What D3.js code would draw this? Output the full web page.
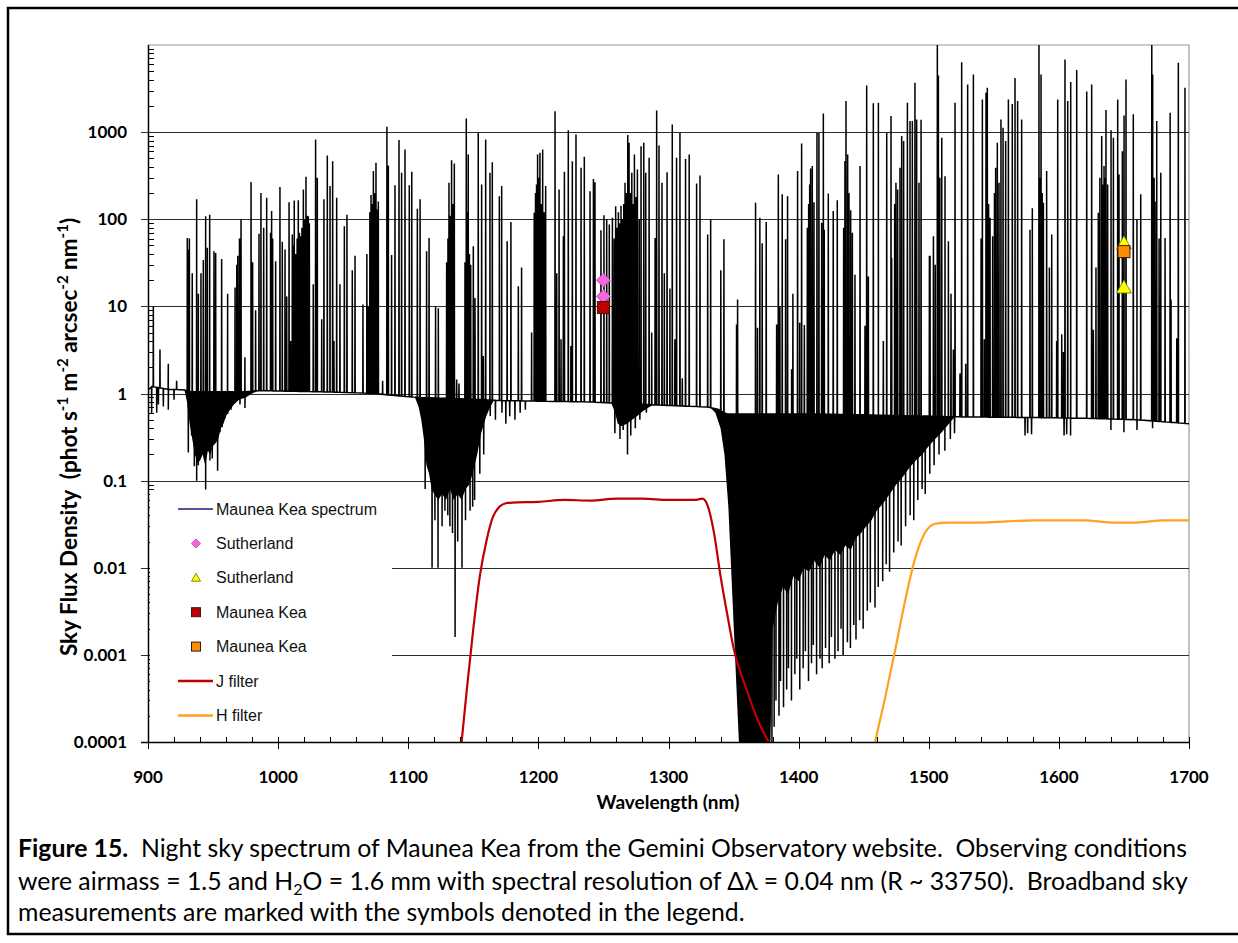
<!DOCTYPE html>
<html>
<head>
<meta charset="utf-8">
<script src="https://cdn.jsdelivr.net/npm/d3@7"></script>
<style>
  body { margin: 0; background: #fff; }
  svg { display: block; }
</style>
</head>
<body>
<svg id="chart" width="1238" height="943"></svg>
<script>
// ---------- Axis ticks ----------
const wavelengthTicks = [900, 1000, 1100, 1200, 1300, 1400, 1500, 1600, 1700];
const fluxTicks = [0.0001, 0.001, 0.01, 0.1, 1, 10, 100, 1000];
const fluxTickLabels = ["0.0001", "0.001", "0.01", "0.1", "1", "10", "100", "1000"];

// ---------- Maunea Kea sky spectrum ----------
// Continuum level [wavelength nm, flux]
const continuum = [
  [900, 1.1], [903, 1.2], [915, 1.12], [928, 1.1], [932, 1.05], [975, 1.05], [985, 1.08],
  [1040, 1.04], [1075, 1.0], [1085, 0.96], [1100, 0.92], [1110, 0.9], [1160, 0.85],
  [1170, 0.83], [1240, 0.8], [1255, 0.78], [1290, 0.74], [1330, 0.7], [1338, 0.66],
  [1345, 0.58], [1420, 0.58], [1500, 0.55], [1520, 0.54], [1580, 0.53], [1620, 0.52],
  [1660, 0.5], [1700, 0.45]
];

// OH emission lines [wavelength nm, peak flux]
const emissionLines = [
  [904.1,10],[909.2,3.2],[915.6,2.2],[922,1.4],[930.2,61],[931.2,45],[931.8,60],[934,24],[937.4,170],
  [938.7,14],[940.7,24],[942.5,34],[944.3,108],[945.6,47],[947.4,113],[950.7,43],[952,41],[956.6,35],
  [961.2,14],[966.9,16.5],[968.2,30],[969,38],[970.3,60],[971.5,100],[974.5,2.6],[979.2,267],[980.4,32],
  [982.7,9],[985.3,68],[986.8,200],[988.9,80],[991.2,176],[994.2,70],[995,124],[995.8,60],[998.1,33],
  [1001.4,234],[1003.2,55],[1005.3,45],[1006.6,13],[1008.4,157],[1009.6,4],[1010.9,67],[1011.6,50],
  [1012.4,164],[1013.5,40],[1014.6,60],[1015.5,165],[1016.4,70],[1017.3,64],[1018.3,80],[1019.4,220],
  [1020.3,100],[1021.4,307],[1022.3,110],[1023.2,108],[1024,90],[1027,18],[1028.8,824],[1030.1,300],
  [1033.5,7.1],[1035.2,170],[1037.8,540],[1039.9,240],[1041.9,464],[1042.9,4],[1045,176],[1047.5,18],
  [1050.9,83],[1052.9,113],[1057,26],[1059.1,38],[1065.2,10.5],[1068.2,40],[1069.3,10],[1070.5,120],
  [1071.4,190],[1072.3,150],[1073.2,357],[1074.2,200],[1075.2,444],[1076.1,130],[1077,160],[1080.3,1.4],
  [1083.6,1150],[1084.7,414],[1087.2,39],[1089.8,246],[1092.9,810],[1094.9,341],[1097.5,630],[1100.8,246],
  [1102.7,350],[1107,132],[1109.1,170],[1114.1,43],[1116,61],[1121,10],[1123.1,9.5],[1129.5,32],
  [1130.5,60],[1131.3,262],[1132.2,110],[1133.3,477],[1134.3,150],[1135.4,437],[1137.2,1.45],[1139,1.3],
  [1143.6,32],[1144.6,1430],[1145.3,120],[1146.1,555],[1147,40],[1148,30],[1150,49],[1151.3,12.5],
  [1153.8,980],[1156.4,250],[1157.7,2.7],[1159.5,824],[1162.8,341],[1164.6,450],[1170,184],[1171.8,240],
  [1176,56],[1178.9,93],[1184.6,17],[1187.1,28],[1194.8,5],[1196.8,119],[1197.8,200],[1198.6,250],
  [1199.4,555],[1200.3,300],[1201.2,580],[1202.2,150],[1203.3,630],[1204.4,120],[1205.6,240],[1212.8,1740],
  [1214.1,24],[1215.9,220],[1217.4,4.2],[1219.2,64],[1220,350],[1223,1050],[1225,3.5],[1226.1,464],
  [1228.9,940],[1232.8,390],[1235.3,520],[1239.7,210],[1242.3,290],[1243.5,266],[1248.1,75],[1250.4,111],
  [1252.5,100],[1254.5,87],[1256.9,104],[1258.2,60],[1259.4,141],[1260.4,80],[1261.5,120],[1262.5,90],
  [1263.5,143],[1264.6,100],[1265.6,150],[1266.6,262],[1267.6,200],[1268.7,925],[1269.7,755],[1270.8,200],
  [1271.8,341],[1272.8,150],[1273.8,555],[1275,180],[1276.1,373],[1277.5,100],[1278.9,690],[1281,755],
  [1282.5,341],[1285.1,507],[1287.1,5],[1289.7,61],[1290.9,1770],[1292.7,700],[1295,262],[1296.8,24],
  [1298.9,347],[1301.1,16],[1302.9,1220],[1304.9,4.2],[1306.2,507],[1308.8,980],[1310.6,1.5],[1313.1,490],
  [1315.9,555],[1321.6,257],[1324.2,318],[1330.1,67],[1332.4,100],[1340.2,26],[1342.6,59],[1352.3,6.2],
  [1353.1,12],[1366.9,155],[1368.4,5.7],[1370.2,104],[1372,53],[1375.1,93],[1383.1,6.2],[1384.4,326],
  [1385.6,10],[1387.4,193],[1390,59],[1391.5,184],[1394.6,1.9],[1395.6,14],[1399.2,357],[1400.8,6.5],
  [1402.3,740],[1404.4,6.1],[1406.7,80],[1407.7,150],[1408.5,250],[1409.2,382],[1410.5,408],[1411.8,157],
  [1414.1,980],[1415.6,980],[1417.7,91],[1419,1640],[1419.7,76],[1422.8,197],[1426.6,124],[1429.7,165],
  [1434.6,80],[1435.6,465],[1436.4,2270],[1437.7,555],[1438.7,200],[1440,127],[1441.3,70],[1443.3,23],
  [1447.2,408],[1451,6],[1452.3,3430],[1453.6,22],[1457.4,2150],[1461.3,2170],[1465.1,4],[1467.7,980],
  [1471,1530],[1471.5,36],[1473.8,150],[1474.8,262],[1476.1,220],[1477.9,390],[1479.2,900],[1480.7,790],
  [1483.6,2170],[1485.6,1340],[1487.4,1340],[1489.4,3690],[1490.7,1400],[1492.5,262],[1494.1,1390],
  [1500.5,38],[1501,38],[1503.6,64],[1505,30],[1506.6,12000],[1507.4,4470],[1508.5,300],[1510,860],
  [1512.5,312],[1515.1,56],[1517.1,14],[1518.9,3.2],[1520.2,2170],[1524,1.7],[1525.3,6350],[1528.4,2.2],
  [1529.9,3530],[1534.3,4580],[1540.2,60],[1541.2,2370],[1542.7,4.2],[1544,2830],[1545,3230],[1546,150],
  [1547.1,104],[1549.1,64],[1550.5,200],[1551.4,390],[1552.7,755],[1554,262],[1555.5,1400],[1557.1,1120],
  [1559.1,790],[1561.2,2370],[1564.2,2100],[1566.3,4190],[1568.3,2270],[1571.4,1400],[1577.8,76],
  [1579.6,134],[1584.7,12000],[1585.5,300],[1586.3,4580],[1587.2,200],[1588.1,155],[1590.6,357],
  [1592.7,28],[1594.5,67],[1598.3,4],[1599.1,2370],[1602.2,4.8],[1603.5,3],[1604.7,6800],[1606.8,2270],
  [1609.1,3750],[1613.7,5180],[1621.4,2930],[1625.2,3530],[1626.5,5.4],[1628.5,28],[1630.3,119],
  [1631.5,300],[1632.9,900],[1633.8,250],[1634.7,408],[1635.5,300],[1636.2,1790],[1637.5,250],
  [1640.1,1050],[1641.9,860],[1645.2,2370],[1646.2,326],[1648.8,605],[1650.1,1550],[1651.6,4030],
  [1657.2,1600],[1660,100],[1662.9,193],[1671.4,12000],[1672.1,4580],[1673.2,300],[1673.9,160],
  [1675.2,1340],[1677,60],[1678.3,341],[1681.6,61],[1685.5,1670],[1686.2,12],[1690.6,4.3],[1691.8,6240],
  [1696.9,3230]
];

// Water vapour absorption bands: lower edge of the blended absorption [wavelength nm, flux]
const bandA = [
  [928,1.1],[930,0.8],[932,0.45],[934,0.3],[936,0.2],[938,0.16],[940,0.17],[942,0.2],[944,0.15],
  [946,0.22],[948,0.2],[950,0.25],[952,0.27],[954,0.3],[956,0.4],[958,0.45],[960,0.55],[963,0.65],
  [966,0.75],[970,0.85],[975,0.9],[980,1.0],[985,1.08]
];
const bandB = [
  [1105,0.91],[1108,0.7],[1110,0.5],[1112,0.3],[1114,0.15],[1116,0.12],[1118,0.08],[1120,0.07],
  [1123,0.06],[1126,0.07],[1129,0.06],[1132,0.08],[1135,0.06],[1138,0.07],[1141,0.06],[1144,0.08],
  [1147,0.09],[1150,0.13],[1153,0.2],[1156,0.35],[1160,0.55],[1163,0.7],[1166,0.84]
];
const bandC = [
  [1256,0.78],[1259,0.6],[1261,0.45],[1264,0.42],[1268,0.45],[1272,0.5],[1276,0.55],[1280,0.62],
  [1284,0.68],[1288,0.74]
];
const bandD = [
  [1332,0.69],[1336,0.6],[1340,0.4],[1343,0.2],[1346,0.05],[1349,0.005],[1352,0.0005],[1355,0.00005],
  [1378,0.00005],[1380,0.002],[1384,0.004],[1388,0.006],[1392,0.005],[1396,0.008],[1400,0.007],
  [1404,0.01],[1408,0.009],[1412,0.012],[1416,0.01],[1420,0.014],[1424,0.012],[1428,0.016],
  [1432,0.014],[1436,0.018],[1440,0.016],[1444,0.022],[1448,0.025],[1452,0.03],[1456,0.035],
  [1460,0.045],[1465,0.055],[1470,0.07],[1475,0.09],[1480,0.11],[1485,0.14],[1490,0.17],[1495,0.2],
  [1500,0.25],[1505,0.3],[1510,0.36],[1515,0.44],[1520,0.54]
];
const absorptionBands = [bandA, bandB, bandC, bandD];

// Individual deep absorption features [wavelength nm, minimum flux]
const absorptionLines = [
  [902.8,0.58],[906.7,0.6],[908,0.75],[911.8,0.71],[915.6,0.65],[920,0.85],
  [931,0.21],[933.5,0.33],[935.6,0.146],[937.4,0.1],[938.7,0.15],[941,0.25],[944.3,0.079],[945.8,0.25],
  [947.6,0.17],[949.4,0.18],[951.5,0.27],[953.5,0.13],[955.3,0.36],[957,0.41],[959.2,0.52],[961.2,0.58],
  [963.8,0.65],[966.9,0.78],[970.7,0.75],[974.5,0.68],
  [1113,0.08],[1118.3,0.01],[1120.5,0.035],[1122.9,0.01],[1126,0.03],[1128.2,0.045],[1130.4,0.04],
  [1132,0.03],[1134,0.025],[1136,0.0016],[1138,0.02],[1141.3,0.01],[1144,0.035],[1147.5,0.045],
  [1149.5,0.05],[1151,0.06],[1155,0.12],[1158,0.2],
  [1163,0.55],[1167,0.5],[1172,0.6],[1175,0.45],[1178,0.55],[1182,0.5],[1186,0.6],[1190,0.65],
  [1258.8,0.35],[1262.7,0.3],[1265.2,0.38],[1268.5,0.2],[1271,0.33],[1274.5,0.4],[1278,0.5],[1283,0.6],
  [1379.5,0.0001],[1381.2,0.00015],[1382.6,0.0003],[1384.9,0.0002],[1386.1,0.0005],[1388.4,0.00025],
  [1390.8,0.0004],[1392.2,0.0007],[1394.5,0.0003],[1397.1,0.0006],[1398.6,0.0009],[1400.9,0.0004],
  [1403.5,0.0007],[1405.2,0.0011],[1407.6,0.0005],[1409.9,0.0008],[1411.3,0.0013],[1413.8,0.0006],
  [1416.4,0.0009],[1418.1,0.0007],[1420.7,0.0012],[1423.5,0.0008],[1425.2,0.0016],[1427.9,0.0009],
  [1430.3,0.0011],[1432.6,0.002],[1434.2,0.001],[1437.5,0.0014],[1439.8,0.0012],[1442.4,0.0022],
  [1444.1,0.0015],[1446.9,0.0025],[1449.6,0.002],[1452.8,0.0032],[1455.1,0.004],[1458.7,0.0035],
  [1461.2,0.006],[1464.6,0.007],[1467.3,0.011],[1469.9,0.009],[1473.1,0.015],[1476.4,0.02],
  [1478.8,0.018],[1482.2,0.03],[1485.7,0.04],[1488.5,0.035],[1491.6,0.06],[1494.9,0.08],[1497.3,0.07],
  [1500.8,0.12],[1504.1,0.15],[1507.9,0.2],[1512.4,0.22],[1516.6,0.3],[1519.8,0.35],
  [1574,0.33],[1576,0.35],[1579,0.34],[1604,0.33],[1606,0.34],[1609,0.33],[1640,0.38],[1650,0.36],
  [1660,0.38],[1672,0.4]
];

// ---------- Filter transmission curves ----------
const jFilter = [
  [1141,0.0001],[1145,0.0004],[1150,0.002],[1155,0.008],[1160,0.02],[1165,0.038],[1170,0.05],
  [1175,0.055],[1180,0.056],[1200,0.057],[1220,0.06],[1240,0.059],[1260,0.062],[1280,0.062],
  [1300,0.06],[1320,0.06],[1326,0.062],[1330,0.052],[1335,0.025],[1340,0.008],[1345,0.003],
  [1350,0.0012],[1360,0.0004],[1370,0.00016],[1377,0.0001]
];
const hFilter = [
  [1458.7,0.0001],[1466,0.0003],[1474,0.0011],[1482,0.0043],[1489,0.012],[1497,0.025],[1505,0.032],
  [1515,0.033],[1540,0.033],[1560,0.034],[1580,0.035],[1600,0.035],[1620,0.035],[1640,0.033],
  [1660,0.033],[1680,0.035],[1700,0.035]
];

// ---------- Broadband sky measurements [wavelength nm, flux] ----------
const sutherlandJ = [[1250, 20], [1250, 13]];
const sutherlandH = [[1650, 53], [1650, 16.5]];
const maunaKeaJ = [[1250, 9.7]];
const maunaKeaH = [[1650, 42.5]];

// ---------- Layout ----------
const svg = d3.select("#chart");
const plot = { left: 148, right: 1189, top: 45, bottom: 742 };

const x = d3.scaleLinear().domain([900, 1700]).range([plot.left, plot.right]);
const y = d3.scaleLog().domain([0.0001, 10000]).range([plot.bottom, plot.top]);

// Outer figure frame
svg.append("rect").attr("x", 8).attr("y", 8).attr("width", 1240).attr("height", 926)
  .attr("fill", "none").attr("stroke", "#000").attr("stroke-width", 2.5);

// Clip path for the plot area
svg.append("clipPath").attr("id", "plotClip").append("rect")
  .attr("x", plot.left).attr("y", plot.top)
  .attr("width", plot.right - plot.left).attr("height", plot.bottom - plot.top);

// Plot-area border (top and right)
svg.append("path")
  .attr("d", `M${plot.left},${plot.top}H${plot.right}V${plot.bottom}`)
  .attr("fill", "none").attr("stroke", "#9a9a9a").attr("stroke-width", 1.2);

// Horizontal gridlines
svg.append("g").selectAll("line").data(fluxTicks.slice(1)).join("line")
  .attr("x1", plot.left - 7).attr("x2", plot.right)
  .attr("y1", d => Math.round(y(d)) + 0.5).attr("y2", d => Math.round(y(d)) + 0.5)
  .attr("stroke", "#2e2e2e").attr("stroke-width", 1.1);

// Continuum interpolation (log flux) used as the base of each line
const contScale = d3.scaleLinear()
  .domain(continuum.map(d => d[0]))
  .range(continuum.map(d => Math.log10(d[1])))
  .clamp(true);
const base = w => Math.pow(10, contScale(w));

const gSpec = svg.append("g").attr("clip-path", "url(#plotClip)");

// Blended absorption bands
const bandArea = d3.area()
  .x(d => x(d[0]))
  .y0(d => y(base(d[0])))
  .y1(d => y(Math.max(d[1], 1e-6)));
absorptionBands.forEach(band => {
  gSpec.append("path").attr("d", bandArea(band)).attr("fill", "#000");
});

// Spectrum path: continuum plus individual emission and absorption lines
const halfWidth = 0.14;
const specPts = continuum.map(d => [d[0], d[1]]);
emissionLines.concat(absorptionLines).forEach(([w, v]) => {
  specPts.push([w - halfWidth, base(w - halfWidth)]);
  specPts.push([w, v]);
  specPts.push([w + halfWidth, base(w + halfWidth)]);
});
specPts.sort((a, b) => a[0] - b[0]);
const specLine = d3.line().x(d => x(d[0])).y(d => y(Math.max(d[1], 1e-6)));
gSpec.append("path").attr("d", specLine(specPts))
  .attr("fill", "none").attr("stroke", "#000").attr("stroke-width", 1.5)
  .attr("stroke-linejoin", "miter").attr("stroke-miterlimit", 2);

// Filter curves
const filterLine = d3.line().x(d => x(d[0])).y(d => y(d[1])).curve(d3.curveMonotoneX);
gSpec.append("path").attr("d", filterLine(jFilter))
  .attr("fill", "none").attr("stroke", "#c00000").attr("stroke-width", 2.2);
gSpec.append("path").attr("d", filterLine(hFilter))
  .attr("fill", "none").attr("stroke", "#ffa020").attr("stroke-width", 2.2);

// Marker shapes
function drawDiamond(g, px, py, s) {
  g.append("path").attr("d", `M${px},${py - s}L${px + s},${py}L${px},${py + s}L${px - s},${py}Z`)
    .attr("fill", "#f666e0").attr("stroke", "#b040a0").attr("stroke-width", 0.8);
}
function drawTriangle(g, px, py, s) {
  g.append("path").attr("d", `M${px},${py - s}L${px + s},${py + s * 0.75}L${px - s},${py + s * 0.75}Z`)
    .attr("fill", "#ffff00").attr("stroke", "#6b6b00").attr("stroke-width", 0.8);
}
function drawSquare(g, px, py, s, fill) {
  g.append("rect").attr("x", px - s).attr("y", py - s).attr("width", 2 * s).attr("height", 2 * s)
    .attr("fill", fill).attr("stroke", "#3a1a00").attr("stroke-width", 1);
}

const gMarks = svg.append("g");
sutherlandJ.forEach(d => drawDiamond(gMarks, x(d[0]), y(d[1]), 7));
maunaKeaJ.forEach(d => drawSquare(gMarks, x(d[0]), y(d[1]), 6, "#c00000"));
sutherlandH.forEach(d => drawTriangle(gMarks, x(d[0]), y(d[1]), 7.5));
maunaKeaH.forEach(d => drawSquare(gMarks, x(d[0]), y(d[1]), 6, "#ff8c00"));

// Axes lines
svg.append("line").attr("x1", plot.left + 0.5).attr("x2", plot.left + 0.5)
  .attr("y1", plot.top).attr("y2", plot.bottom).attr("stroke", "#000").attr("stroke-width", 1.5);
svg.append("line").attr("x1", plot.left - 7).attr("x2", plot.right)
  .attr("y1", plot.bottom + 0.5).attr("y2", plot.bottom + 0.5).attr("stroke", "#000").attr("stroke-width", 1.5);

// Y minor ticks (inside)
const minorY = [];
for (let e = -4; e <= 3; e++) for (let k = 2; k <= 9; k++) minorY.push(k * Math.pow(10, e));
svg.append("g").selectAll("line").data(minorY).join("line")
  .attr("x1", plot.left).attr("x2", plot.left + 6)
  .attr("y1", d => Math.round(y(d)) + 0.5).attr("y2", d => Math.round(y(d)) + 0.5)
  .attr("stroke", "#000").attr("stroke-width", 1);

// X ticks: major down, minor up
const minorX = d3.range(920, 1700, 20).filter(v => v % 100 !== 0);
svg.append("g").selectAll("line").data(wavelengthTicks).join("line")
  .attr("x1", d => Math.round(x(d)) + 0.5).attr("x2", d => Math.round(x(d)) + 0.5)
  .attr("y1", plot.bottom - 5).attr("y2", plot.bottom + 7)
  .attr("stroke", "#000").attr("stroke-width", 1);
svg.append("g").selectAll("line").data(minorX).join("line")
  .attr("x1", d => Math.round(x(d)) + 0.5).attr("x2", d => Math.round(x(d)) + 0.5)
  .attr("y1", plot.bottom - 5).attr("y2", plot.bottom)
  .attr("stroke", "#000").attr("stroke-width", 1);

// Tick labels
const tickFont = "Lato, 'DejaVu Sans', sans-serif";
svg.append("g").selectAll("text").data(fluxTicks).join("text")
  .attr("x", 127).attr("y", d => y(d) + 6)
  .attr("text-anchor", "end").attr("font-family", tickFont).attr("font-weight", 700)
  .attr("font-size", 17).text((d, i) => fluxTickLabels[i]);
svg.append("g").selectAll("text").data(wavelengthTicks).join("text")
  .attr("x", d => x(d)).attr("y", 783)
  .attr("text-anchor", "middle").attr("font-family", tickFont).attr("font-weight", 700)
  .attr("font-size", 17).text(d => d);

// Axis titles
svg.append("text").attr("x", 668).attr("y", 809).attr("text-anchor", "middle")
  .attr("font-family", tickFont).attr("font-weight", 700).attr("font-size", 19)
  .text("Wavelength (nm)");

const yTitle = svg.append("text")
  .attr("transform", "translate(77,437) rotate(-90)")
  .attr("text-anchor", "middle")
  .attr("font-family", tickFont).attr("font-weight", 700).attr("font-size", 22.5);
const yParts = [
  ["Sky Flux Density\u00a0 (phot s", false], ["-1", true], [" m", false], ["-2", true],
  [" arcsec", false], ["-2", true], [" nm", false], ["-1", true], [")", false]
];
yParts.forEach(([t, sup]) => {
  const ts = yTitle.append("tspan").text(t);
  if (sup) ts.attr("font-size", 15).attr("baseline-shift", "super");
});

// Legend
const legend = svg.append("g");
legend.append("rect").attr("x", 150).attr("y", 490).attr("width", 242).attr("height", 240).attr("fill", "#fff");
const legendFont = "'Liberation Sans', Arial, sans-serif";
const legendItems = [
  { label: "Maunea Kea spectrum", kind: "line", color: "#1a1a80" },
  { label: "Sutherland", kind: "diamond" },
  { label: "Sutherland", kind: "triangle" },
  { label: "Maunea Kea", kind: "square", color: "#c00000" },
  { label: "Maunea Kea", kind: "square", color: "#ff8c00" },
  { label: "J filter", kind: "line", color: "#c00000", width: 2.5 },
  { label: "H filter", kind: "line", color: "#ffa020", width: 2.5 }
];
legendItems.forEach((it, i) => {
  const cy = 509 + i * 34.4;
  if (it.kind === "line") {
    legend.append("line").attr("x1", 178).attr("x2", 213).attr("y1", cy).attr("y2", cy)
      .attr("stroke", it.color).attr("stroke-width", it.width || 1.3);
  } else if (it.kind === "diamond") {
    drawDiamond(legend, 196, cy, 4.5);
  } else if (it.kind === "triangle") {
    drawTriangle(legend, 196, cy, 4.5);
  } else {
    drawSquare(legend, 196, cy, 4.5, it.color);
  }
  legend.append("text").attr("x", 216).attr("y", cy + 5.5)
    .attr("font-family", legendFont).attr("font-size", 16).attr("fill", "#111")
    .text(it.label);
});

// Caption
const capFont = "Lato, 'Open Sans', sans-serif";
const cap = svg.append("g").attr("font-family", capFont).attr("font-size", 24.8).attr("fill", "#000");
const l1 = cap.append("text").attr("x", 18).attr("y", 857);
l1.append("tspan").attr("font-weight", 700).text("Figure 15.");
l1.append("tspan").text("\u00a0 Night sky spectrum of Maunea Kea from the Gemini Observatory website.\u00a0 Observing conditions");
const l2 = cap.append("text").attr("x", 18).attr("y", 890);
l2.append("tspan").text("were airmass = 1.5 and H");
l2.append("tspan").attr("font-size", 16).attr("dy", 5).text("2");
l2.append("tspan").attr("dy", -5).text("O = 1.6 mm with spectral resolution of \u0394\u03bb = 0.04 nm (R ~ 33750).\u00a0 Broadband sky");
cap.append("text").attr("x", 18).attr("y", 921)
  .text("measurements are marked with the symbols denoted in the legend.");
</script>
</body>
</html>
